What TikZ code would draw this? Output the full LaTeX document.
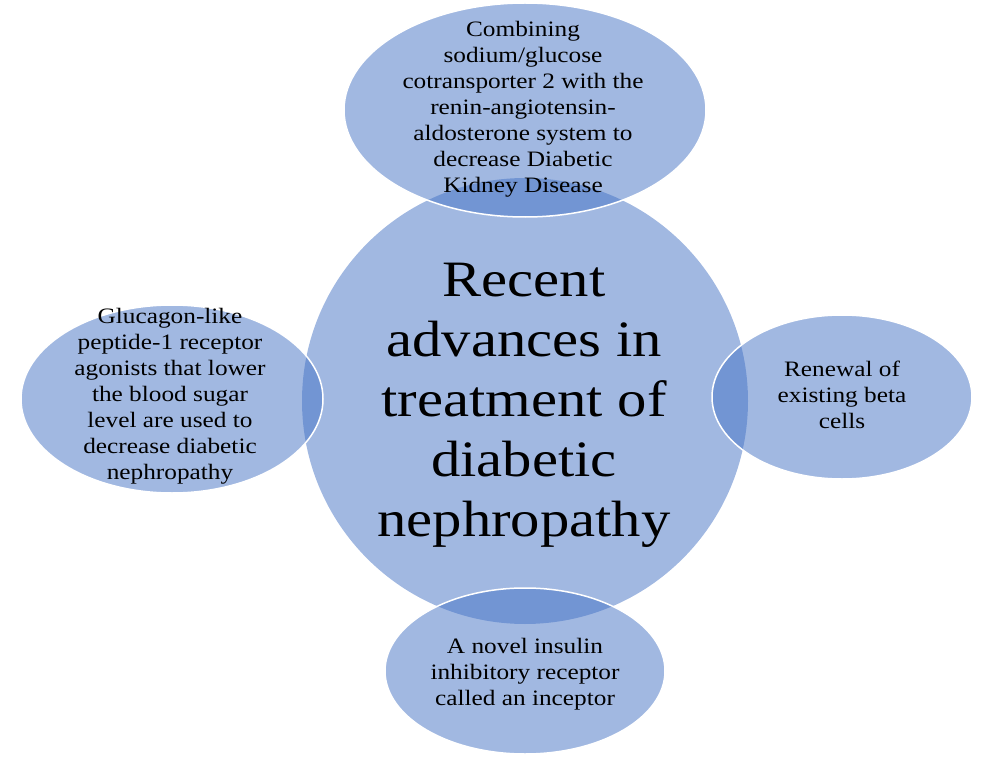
\documentclass[tikz,border=0pt]{standalone}
\usepackage{fontspec}
\setmainfont{Liberation Serif}[FakeStretch=1.15]
\usetikzlibrary{shapes.geometric}
\definecolor{accent}{HTML}{4472C4}
\begin{document}
\begin{tikzpicture}[x=1pt,y=-1pt,
  hub/.style={circle, fill=accent, fill opacity=0.5, inner sep=0pt, minimum size=446pt},
  sat/.style={ellipse, draw=white, line width=1.5pt, fill=accent, fill opacity=0.5, inner sep=0pt},
  lbl/.style={align=center, font=\fontsize{22}{26}\selectfont, inner sep=0pt},
  bigl/.style={align=center, font=\fontsize{51}{60}\selectfont, inner sep=0pt}]
\useasboundingbox (0,0) rectangle (986,757);
\node[hub] (c) at (525,401) {};
\node[sat, minimum width=362pt, minimum height=214pt] (t) at (525,110) {};
\node[sat, minimum width=302pt, minimum height=188pt] (l) at (172,399) {};
\node[sat, minimum width=260pt, minimum height=164pt] (r) at (842,397) {};
\node[sat, minimum width=280pt, minimum height=166pt] (b) at (525,671) {};
\node[bigl] (ct) at (524,405) {Recent\\advances in\\treatment of\\diabetic\\nephropathy};
\node[lbl] (tt) at (523,109) {Combining\\sodium/glucose\\cotransporter 2 with the\\renin-angiotensin-\\aldosterone system to\\decrease Diabetic\\Kidney Disease};
\node[lbl] (lt) at (170,396) {Glucagon-like\\peptide-1 receptor\\agonists that lower\\the blood sugar\\level are used to\\decrease diabetic\\nephropathy};
\node[lbl] (rt) at (842,394.5) {Renewal of\\existing beta\\cells};
\node[lbl] (bt) at (525,674) {A novel insulin\\inhibitory receptor\\called an inceptor};
\end{tikzpicture}
\end{document}
